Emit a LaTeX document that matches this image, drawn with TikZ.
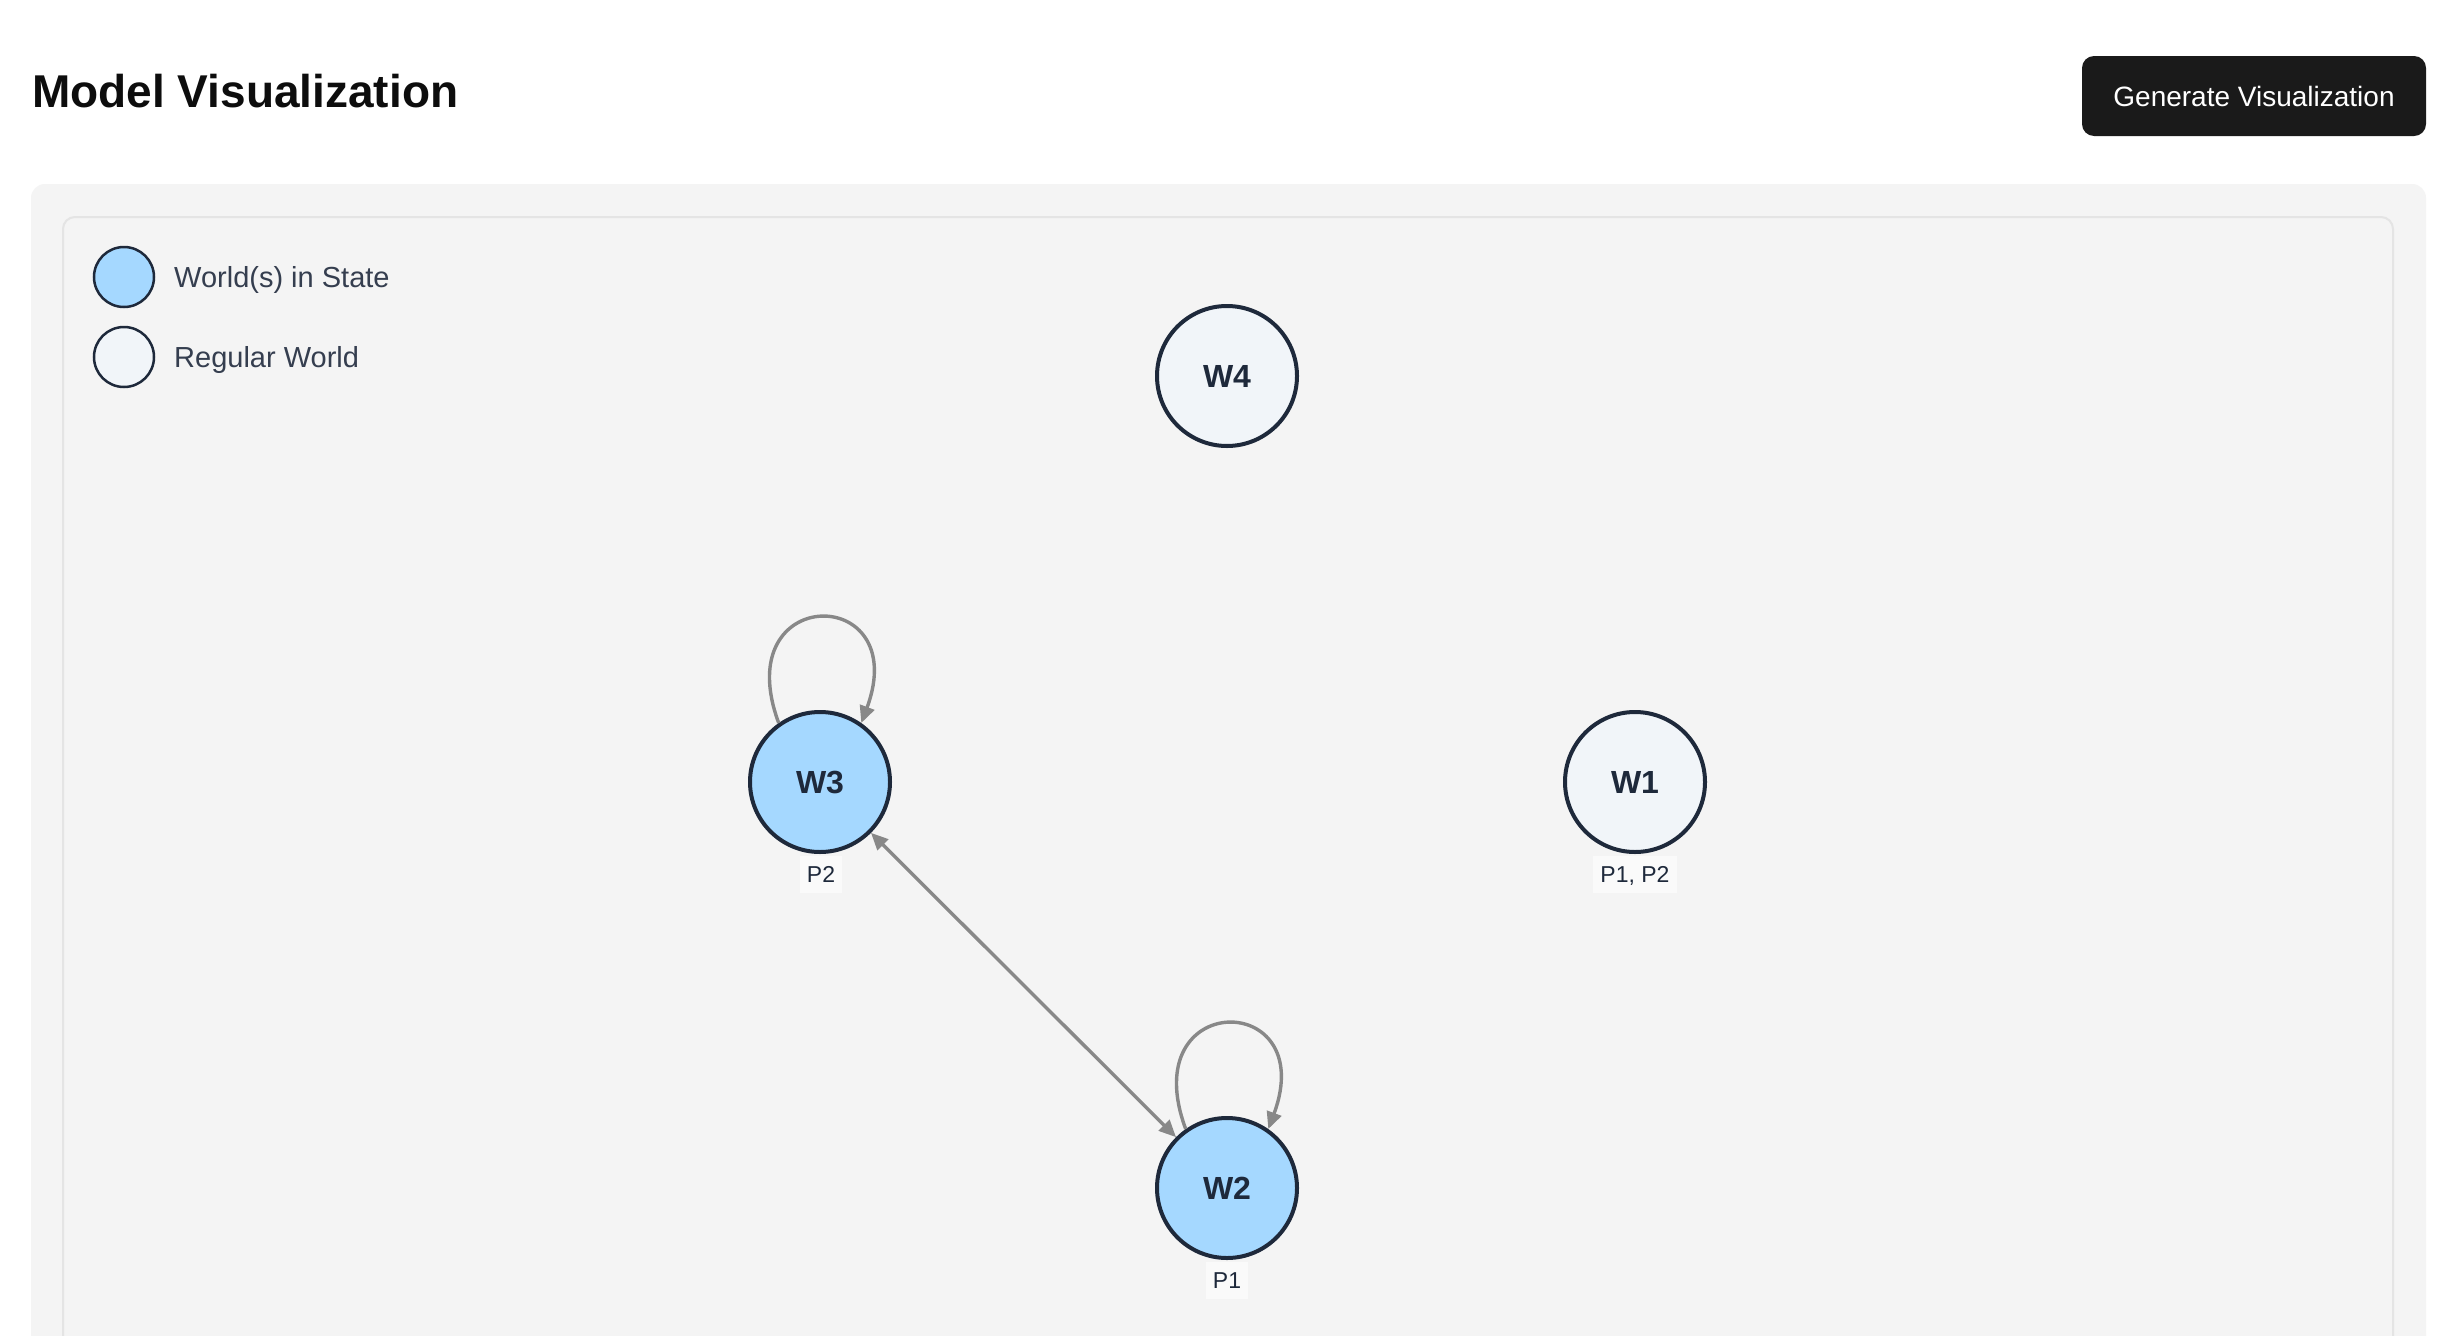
\documentclass[tikz,border=0pt]{standalone}
\usepackage{fontspec}
\setmainfont{Liberation Sans}
\usetikzlibrary{arrows.meta}
\definecolor{panelbg}{HTML}{F4F4F4}
\definecolor{panelline}{HTML}{E4E4E4}
\definecolor{ink}{HTML}{1E293B}
\definecolor{statefill}{HTML}{A5D8FF}
\definecolor{regfill}{HTML}{F1F5F9}
\definecolor{edgegray}{HTML}{888888}
\definecolor{btnbg}{HTML}{1A1A1A}
\definecolor{tagbg}{HTML}{FAFAFA}
\begin{document}
\begin{tikzpicture}[x=1pt,y=-1pt,
  world/.style={circle, minimum size=140pt, inner sep=0pt, line width=4pt, draw=ink, text=ink,
    font=\fontsize{32}{38}\selectfont\bfseries},
  statew/.style={world, fill=statefill},
  regw/.style={world, fill=regfill},
  legdot/.style={circle, minimum size=60pt, inner sep=0pt, line width=2.5pt, draw=ink},
  legtext/.style={anchor=base west, inner sep=0pt, text=ink!90, font=\fontsize{29}{35}\selectfont},
  tag/.style={fill=tagbg, text=ink, inner xsep=7pt, inner ysep=10pt, text height=17pt, text depth=0pt,
    font=\fontsize{23}{28}\selectfont},
  tip/.tip={Triangle[length=17pt,width=15pt]},
  edge/.style={draw=edgegray, line width=3.4pt, fill=none},
]
\useasboundingbox (0,0) rectangle (2458,1336);
\fill[white] (0,0) rectangle (2458,1336);
\begin{scope}
\clip (0,0) rectangle (2458,1336);
\fill[panelbg, rounded corners=14pt] (31,184) rectangle (2426,1420);
\draw[panelline, fill=panelbg, line width=2pt, rounded corners=12pt] (63,217) rectangle (2393,1420);
\end{scope}

% header
\node[anchor=base west, inner sep=0pt, text=black!95, font=\fontsize{46}{55}\selectfont\bfseries] (title) at (32,107) {Model Visualization};
\fill[btnbg, rounded corners=12pt] (2082,56) rectangle (2426,136);
\node[text=white, inner sep=0pt, font=\fontsize{28}{34}\selectfont] (btn) at (2254,96) {Generate Visualization};

% legend
\node[legdot, fill=statefill] (legS) at (124,277) {};
\node[legtext] (legSt) at (174,287) {World(s) in State};
\node[legdot, fill=regfill] (legR) at (124,357) {};
\node[legtext] (legRt) at (174,367) {Regular World};

% worlds
\node[regw] (W4) at (1227,376) {W4};
\node[statew] (W3) at (820,782) {W3};
\node[regw] (W1) at (1635,782) {W1};
\node[statew] (W2) at (1227,1188) {W2};

% valuation tags
\node[tag] (tW3) at (821,874) {P2};
\node[tag] (tW1) at (1635,874) {P1, P2};
\node[tag] (tW2) at (1227,1280) {P1};

% relations
\draw[edge, tip-tip, fill=edgegray] (W3) -- (W2);
\draw[edge, -tip] (W3.125) .. controls +(-52,-140) and +(52,-140) .. (W3.55);
\draw[edge, -tip] (W2.125) .. controls +(-52,-140) and +(52,-140) .. (W2.55);
\end{tikzpicture}
\end{document}
